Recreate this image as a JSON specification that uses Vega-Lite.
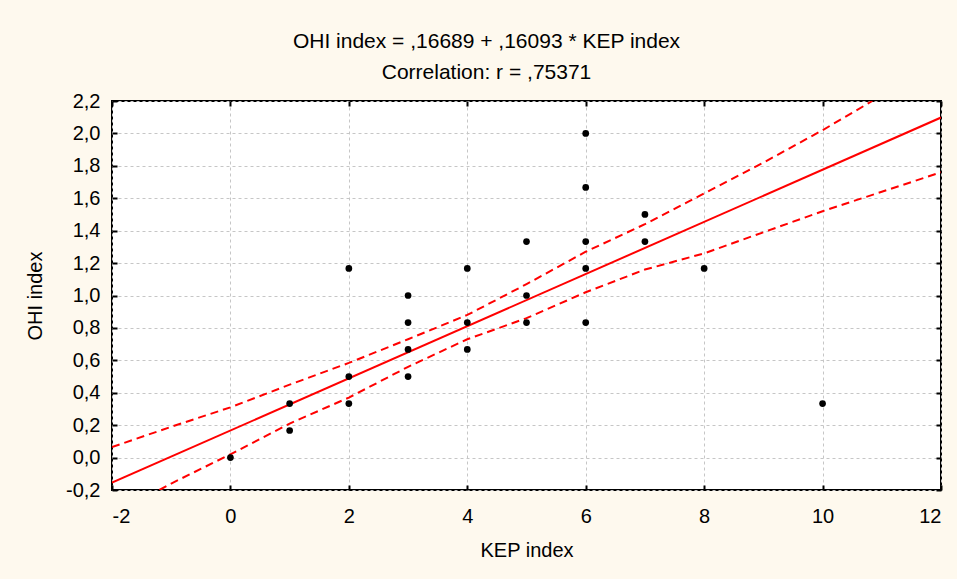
{
  "$schema": "https://vega.github.io/schema/vega-lite/v6.json",
  "autosize": {"type": "none"},
  "width": 829,
  "height": 389,
  "padding": {"left": 112, "top": 101, "right": 16, "bottom": 89},
  "background": "#FEF9EE",
  "title": {
    "text": ["OHI index = ,16689 + ,16093 *  KEP index", "Correlation: r = ,75371"],
    "font": "Liberation Sans",
    "fontSize": 21,
    "fontWeight": "normal",
    "color": "#000000",
    "lineHeight": 31,
    "anchor": "middle",
    "frame": "group",
    "dx": -40,
    "offset": 8
  },
  "config": {
    "locale": {"number": {"decimal": ",", "thousands": ".", "grouping": [3], "currency": ["", ""], "minus": "-"}},
    "view": {"stroke": "#000000", "strokeWidth": 2, "fill": "#FFFFFF"},
    "axis": {
      "labelFont": "Liberation Sans",
      "labelFontSize": 20,
      "labelColor": "#000000",
      "titleFont": "Liberation Sans",
      "titleFontSize": 20,
      "titleFontWeight": "normal",
      "titleColor": "#000000",
      "domain": false,
      "tickColor": "#000000",
      "tickWidth": 2,
      "tickSize": -5,
      "gridColor": "#C6C6C6",
      "gridDash": [3, 3],
      "gridWidth": 1
    }
  },
  "datasets": {
    "points": [
      {"kep": 0, "ohi": 0.0},
      {"kep": 1, "ohi": 0.333}, {"kep": 1, "ohi": 0.167},
      {"kep": 2, "ohi": 1.167}, {"kep": 2, "ohi": 0.5}, {"kep": 2, "ohi": 0.333},
      {"kep": 3, "ohi": 1.0}, {"kep": 3, "ohi": 0.833}, {"kep": 3, "ohi": 0.667}, {"kep": 3, "ohi": 0.5},
      {"kep": 4, "ohi": 1.167}, {"kep": 4, "ohi": 0.833}, {"kep": 4, "ohi": 0.667},
      {"kep": 5, "ohi": 1.333}, {"kep": 5, "ohi": 1.0}, {"kep": 5, "ohi": 0.833},
      {"kep": 6, "ohi": 2.0}, {"kep": 6, "ohi": 1.667}, {"kep": 6, "ohi": 1.333}, {"kep": 6, "ohi": 1.167}, {"kep": 6, "ohi": 0.833},
      {"kep": 7, "ohi": 1.5}, {"kep": 7, "ohi": 1.333},
      {"kep": 8, "ohi": 1.167},
      {"kep": 10, "ohi": 0.333}
    ],
    "fit": [
      {"kep": -2, "ohi": -0.155},
      {"kep": 12, "ohi": 2.098}
    ],
    "upper": [
      {"kep": -2, "ohi": 0.065},
      {"kep": -1, "ohi": 0.19},
      {"kep": 0, "ohi": 0.31},
      {"kep": 1, "ohi": 0.45},
      {"kep": 2, "ohi": 0.584},
      {"kep": 3, "ohi": 0.73},
      {"kep": 4, "ohi": 0.88},
      {"kep": 5, "ohi": 1.07},
      {"kep": 6, "ohi": 1.27},
      {"kep": 7, "ohi": 1.44},
      {"kep": 8, "ohi": 1.63},
      {"kep": 9, "ohi": 1.82},
      {"kep": 10, "ohi": 2.02},
      {"kep": 10.84, "ohi": 2.2}
    ],
    "lower": [
      {"kep": -1.2, "ohi": -0.2},
      {"kep": -1, "ohi": -0.16},
      {"kep": 0, "ohi": 0.02},
      {"kep": 1, "ohi": 0.21},
      {"kep": 2, "ohi": 0.37},
      {"kep": 3, "ohi": 0.56},
      {"kep": 4, "ohi": 0.73},
      {"kep": 5, "ohi": 0.86},
      {"kep": 6, "ohi": 1.02},
      {"kep": 7, "ohi": 1.16},
      {"kep": 8, "ohi": 1.26},
      {"kep": 9, "ohi": 1.39},
      {"kep": 10, "ohi": 1.52},
      {"kep": 11, "ohi": 1.64},
      {"kep": 12, "ohi": 1.76}
    ]
  },
  "layer": [
    {
      "data": {"name": "lower"},
      "mark": {"type": "line", "color": "#FF0000", "strokeWidth": 2, "strokeDash": [8, 5], "clip": true},
      "encoding": {
        "x": {
          "field": "kep", "type": "quantitative",
          "scale": {"domain": [-2, 12], "nice": false, "zero": false},
          "axis": {
            "orient": "bottom",
            "title": "KEP index",
            "values": [-2, 0, 2, 4, 6, 8, 10, 12],
            "format": "d",
            "labelFontSize": 20,
            "labelPadding": 21,
            "titlePadding": 14
          }
        },
        "y": {
          "field": "ohi", "type": "quantitative",
          "scale": {"domain": [-0.2, 2.2], "nice": false, "zero": false},
          "axis": {
            "orient": "left",
            "title": "OHI index",
            "values": [-0.2, 0, 0.2, 0.4, 0.6, 0.8, 1.0, 1.2, 1.4, 1.6, 1.8, 2.0, 2.2],
            "format": ".1f",
            "labelFontSize": 20,
            "labelPadding": 17,
            "titlePadding": 20
          }
        }
      }
    },
    {
      "data": {"name": "upper"},
      "mark": {"type": "line", "color": "#FF0000", "strokeWidth": 2, "strokeDash": [8, 5], "clip": true},
      "encoding": {
        "x": {"field": "kep", "type": "quantitative", "axis": {"orient": "top", "labels": false, "title": null, "grid": false, "values": [-2, 0, 2, 4, 6, 8, 10, 12]}},
        "y": {"field": "ohi", "type": "quantitative", "axis": {"orient": "right", "labels": false, "title": null, "grid": false, "values": [-0.2, 0, 0.2, 0.4, 0.6, 0.8, 1.0, 1.2, 1.4, 1.6, 1.8, 2.0, 2.2]}}
      }
    },
    {
      "data": {"name": "fit"},
      "mark": {"type": "line", "color": "#FF0000", "strokeWidth": 2, "clip": true},
      "encoding": {
        "x": {"field": "kep", "type": "quantitative", "axis": null},
        "y": {"field": "ohi", "type": "quantitative", "axis": null}
      }
    },
    {
      "data": {"name": "points"},
      "mark": {"type": "circle", "color": "#000000", "opacity": 1, "size": 45},
      "encoding": {
        "x": {"field": "kep", "type": "quantitative", "axis": null},
        "y": {"field": "ohi", "type": "quantitative", "axis": null}
      }
    }
  ],
  "resolve": {"axis": {"x": "independent", "y": "independent"}}
}
